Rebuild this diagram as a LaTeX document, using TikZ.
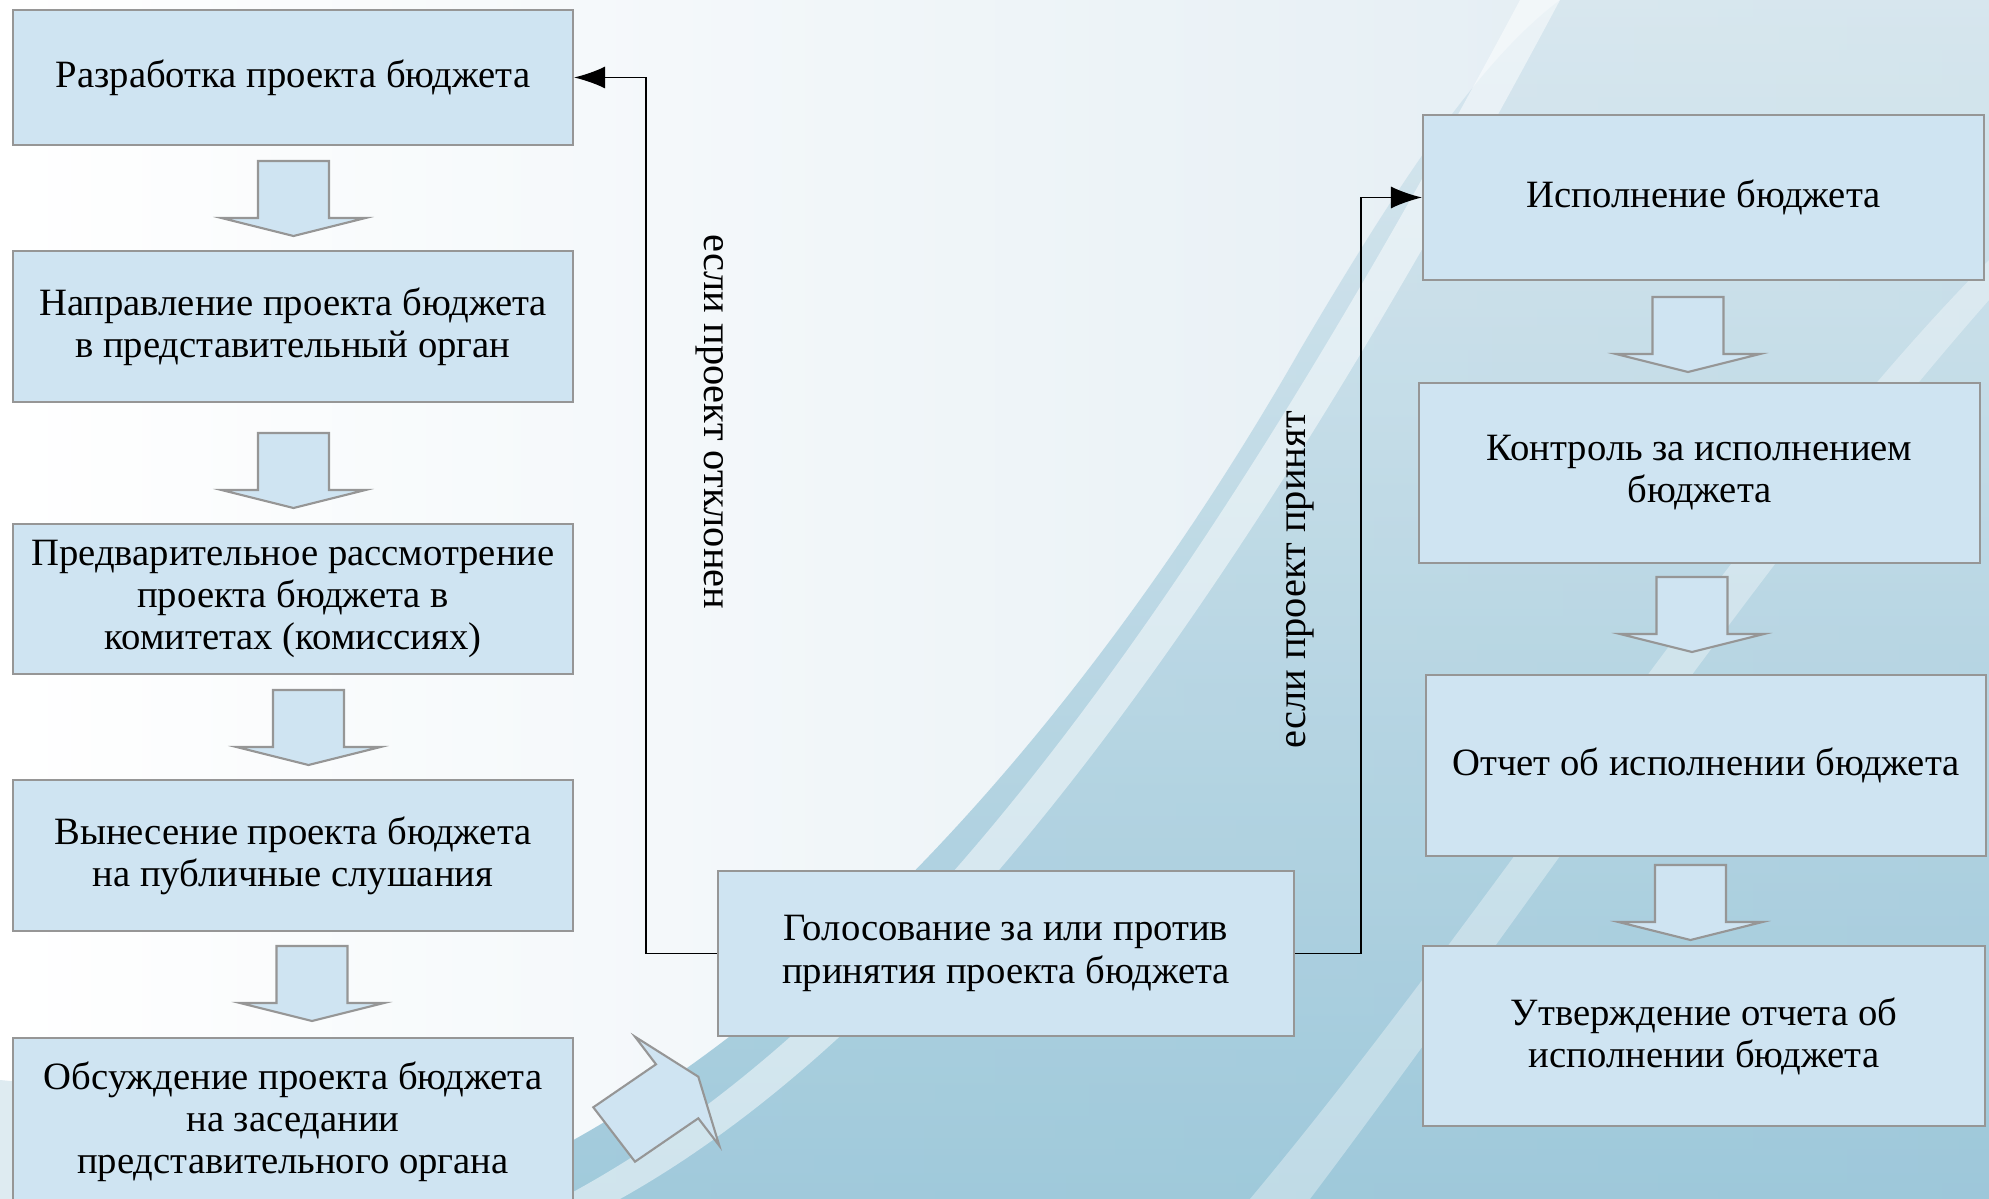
\documentclass[tikz,border=0pt]{standalone}
\usepackage{fontspec}
\setmainfont{Liberation Serif}
\usepackage{xcolor}
\usepackage{tikz}
\usetikzlibrary{arrows.meta}
\usetikzlibrary{positioning}
\definecolor{BoxBlue}{RGB}{207,228,242}
\definecolor{EdgeGrey}{RGB}{150,150,150}
\definecolor{SkyPale}{RGB}{222,234,241}
\definecolor{SkyLight}{RGB}{214,230,238}
\definecolor{SkyDeep}{RGB}{146,194,214}
\tikzset{
  StageBox/.style={
    rectangle, draw=EdgeGrey, line width=0.6pt, fill=BoxBlue,
    align=center, inner sep=1mm,
    font=\fontsize{11pt}{12pt}\selectfont,
  },
  FatArrow/.style={draw=EdgeGrey, line width=0.6pt, fill=BoxBlue, line join=miter},
  Branch/.style={draw=black, line width=0.5pt, -{Latex[length=3.1mm,width=2.2mm]}},
  BranchText/.style={font=\fontsize{11.5pt}{13pt}\selectfont},
  DownArrow/.pic={
    \path[FatArrow] (-0.355,0) -- (0.355,0) -- (0.355,-0.57) -- (0.72,-0.57)
      -- (0,-0.75) -- (-0.72,-0.57) -- (-0.355,-0.57) -- cycle;
  },
}
\begin{document}
\begin{tikzpicture}
\clip (0,0) rectangle (19.89,-11.99);
% background
\shade[left color=white, right color=SkyPale] (0,0) rectangle (19.89,-11.99);
\shade[top color=SkyLight, bottom color=SkyDeep, opacity=0.85] (4.5,-11.99) .. controls (8,-10.6) and (11,-7) .. (13,-3.5)
  .. controls (14,-1.8) and (14.8,-0.6) .. (15.6,0) -- (19.89,0) -- (19.89,-11.99) -- cycle;
\fill[white, opacity=0.5] (5.6,-11.99) .. controls (9,-10.2) and (12,-6) .. (15.2,0) -- (15.6,0)
  .. controls (12.4,-6) and (9.4,-10.2) .. (6.2,-11.99) -- cycle;
\fill[white, opacity=0.35] (12.5,-11.99) .. controls (15,-9) and (17.5,-5) .. (19.89,-2.6) -- (19.89,-3.0)
  .. controls (17.6,-5.6) and (15.2,-9.2) .. (13.1,-11.99) -- cycle;
\fill[SkyLight, opacity=0.8] (0,-11.99) -- (0,-10.8) .. controls (2,-11) and (3.8,-11.5) .. (4.8,-11.99) -- cycle;

\node[StageBox, minimum width=5.6cm, minimum height=1.35cm] (Draft) at (2.93,-0.775) {Разработка проекта бюджета};
\node[StageBox, minimum width=5.6cm, minimum height=1.51cm] (Send) at (2.93,-3.265) {Направление проекта бюджета\\в представительный орган};
\node[StageBox, minimum width=5.6cm, minimum height=1.50cm] (Review) at (2.93,-5.99) {Предварительное рассмотрение\\проекта бюджета в\\комитетах (комиссиях)};
\node[StageBox, minimum width=5.6cm, minimum height=1.51cm] (Hearing) at (2.93,-8.555) {Вынесение проекта бюджета\\на публичные слушания};
\node[StageBox, minimum width=5.6cm, minimum height=1.68cm] (Debate) at (2.93,-11.22) {Обсуждение проекта бюджета\\на заседании\\представительного органа};
\node[StageBox, minimum width=5.76cm, minimum height=1.65cm] (Vote) at (10.06,-9.535) {Голосование за или против\\принятия проекта бюджета};
\node[StageBox, minimum width=5.61cm, minimum height=1.65cm] (Exec) at (17.035,-1.975) {Исполнение бюджета};
\node[StageBox, minimum width=5.61cm, minimum height=1.80cm] (Control) at (16.995,-4.73) {Контроль за исполнением\\бюджета};
\node[StageBox, minimum width=5.60cm, minimum height=1.81cm] (Report) at (17.06,-7.655) {Отчет об исполнении бюджета};
\node[StageBox, minimum width=5.62cm, minimum height=1.80cm] (Approve) at (17.04,-10.36) {Утверждение отчета об\\исполнении бюджета};

\pic at (2.935,-1.61) {DownArrow};
\pic at (2.935,-4.33) {DownArrow};
\pic at (3.085,-6.90) {DownArrow};
\pic at (3.12,-9.46) {DownArrow};
\pic at (16.88,-2.97) {DownArrow};
\pic at (16.92,-5.77) {DownArrow};
\pic at (16.905,-8.65) {DownArrow};
\path[FatArrow] (5.933,-11.073) -- (6.56,-10.643) -- (6.35,-10.367) -- (6.983,-10.767)
  -- (7.193,-11.457) -- (6.983,-11.183) -- (6.35,-11.617) -- cycle;

\draw[Branch] (Vote.west) -- ++(-0.71,0) |- (Draft.east);
\draw[Branch] (Vote.east) -- ++(0.66,0) |- (Exec.west);
\node[BranchText, rotate=-90] (NoLabel) at (7.10,-4.22) {если проект отклонен};
\node[BranchText, rotate=90] (YesLabel) at (13.00,-5.80) {если проект принят};
\end{tikzpicture}
\end{document}
